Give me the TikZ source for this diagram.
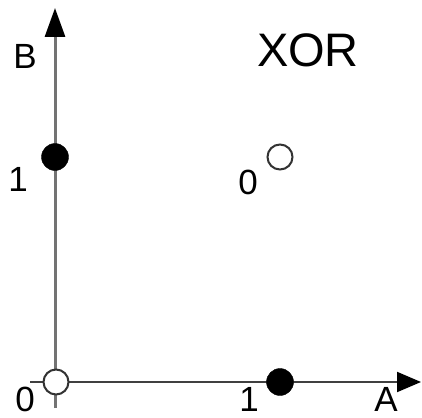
\documentclass[tikz,border=0pt]{standalone}
\usepackage{fontspec}
\setmainfont{Liberation Sans}
\usetikzlibrary{arrows.meta}

\begin{document}
\begin{tikzpicture}[x=1pt, y=-1pt, inner sep=0pt,
  lbl/.style={font=\fontsize{35}{35}\selectfont},
  one/.style={draw=black,circle,fill=black,minimum size=27pt},
  zero/.style={draw=black!80,line width=2pt,circle,fill=white,minimum size=25pt}]
  \useasboundingbox (0,0) rectangle (422,417);

  % axes
  \coordinate (btop) at (55,8);
  \coordinate (bbot) at (55,408);
  \coordinate (aleft) at (30,382);
  \coordinate (aright) at (421,382);
  \draw[line width=3pt, black!55, -{Triangle[length=29pt,width=20pt,black]}] (bbot) -- (btop);
  \draw[line width=2pt, black!75, -{Triangle[length=24pt,width=20pt,black]}] (aleft) -- (aright);

  % points
  \node [zero] (p00) at (56,382) {};
  \node [one]  (p10) at (280,382) {};
  \node [one]  (p01) at (55,157) {};
  \node [zero] (p11) at (280,157) {};

  % labels
  \node [lbl] (la)  at (386,399) {A};
  \node [lbl] (lb)  at (25,56) {B};
  \node [lbl] (l00) at (25,399) {0};
  \node [lbl] (l10) at (249,399) {1};
  \node [lbl] (l01) at (18,179) {1};
  \node [lbl] (l11) at (248,182) {0};
  \node [font=\fontsize{47}{47}\selectfont] (title) at (308,50) {XOR};
\end{tikzpicture}
\end{document}
